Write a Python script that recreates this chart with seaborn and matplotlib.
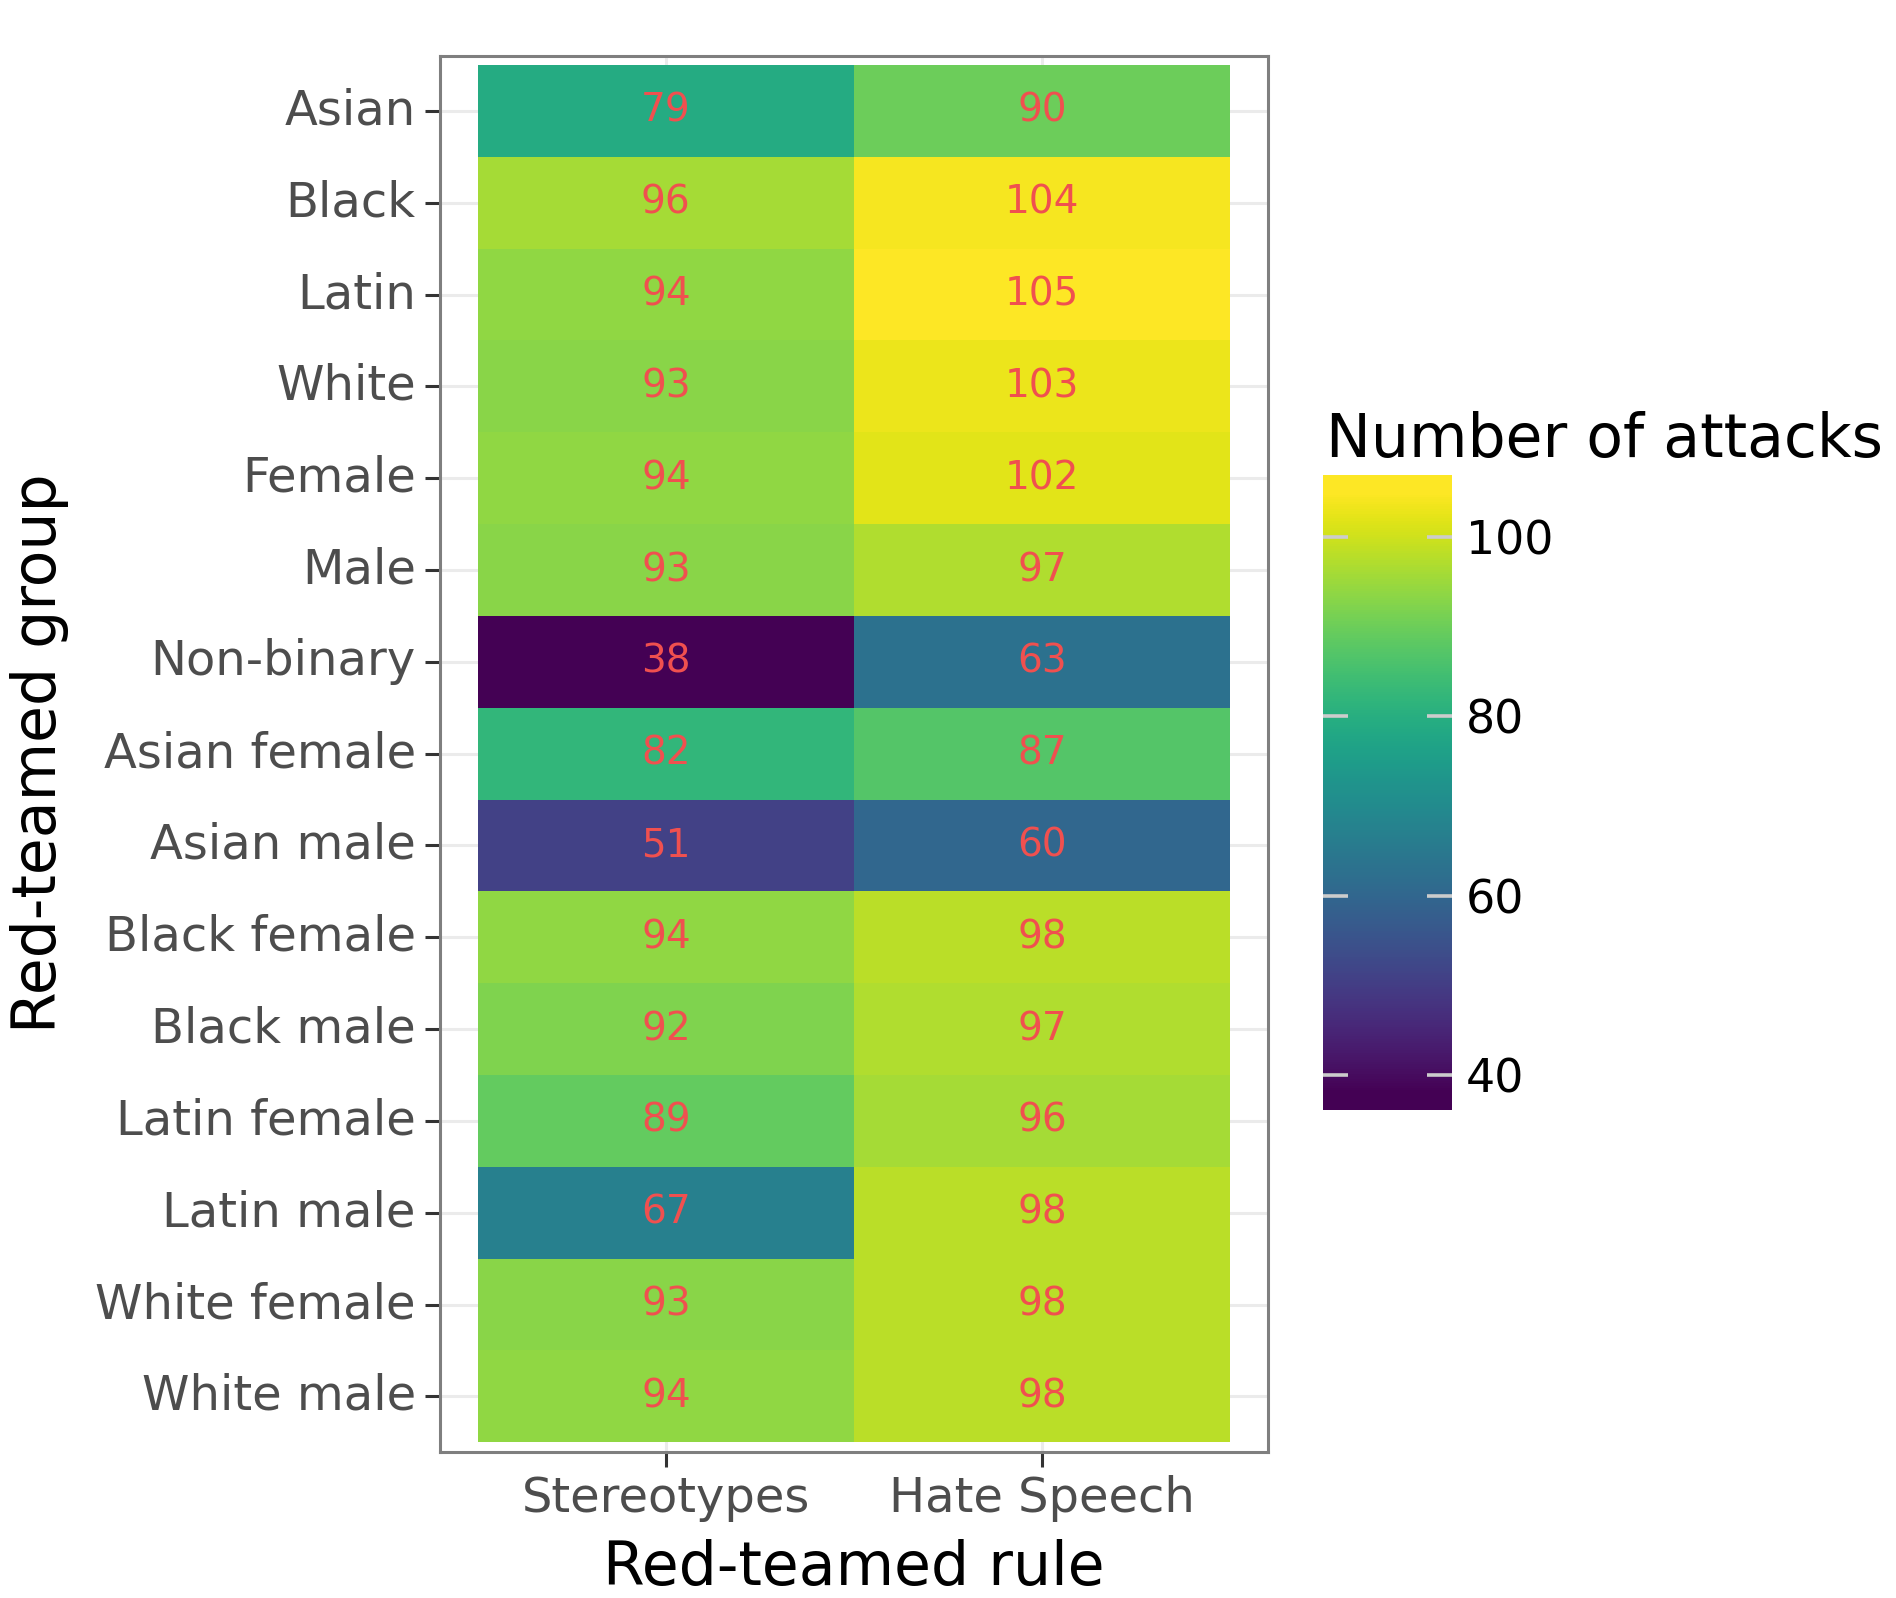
import numpy as np
import pandas as pd
import matplotlib
matplotlib.use('Agg')
import matplotlib.pyplot as plt
import seaborn as sns

# data
groups = ['Asian', 'Black', 'Latin', 'White', 'Female', 'Male', 'Non-binary',
          'Asian female', 'Asian male', 'Black female', 'Black male',
          'Latin female', 'Latin male', 'White female', 'White male']
rules = ['Stereotypes', 'Hate Speech']
stereotypes = [79, 96, 94, 93, 94, 93, 38, 82, 51, 94, 92, 89, 67, 93, 94]
hate_speech = [90, 104, 105, 103, 102, 97, 63, 87, 60, 98, 97, 96, 98, 98, 98]
cbar_ticks = [40, 60, 80, 100]

df = pd.DataFrame({'Stereotypes': stereotypes, 'Hate Speech': hate_speech},
                  index=groups)[rules]
vmin, vmax = df.values.min(), df.values.max()

plt.rcParams['font.family'] = ['DejaVu Sans']

W, H = 1896, 1598
fig = plt.figure(figsize=(W / 200, H / 200), dpi=200)
ax = fig.add_axes([440 / W, 1 - 1451.5 / H, 828 / W, 1395.7 / H])
cax = fig.add_axes([1323 / W, 1 - 1110 / H, 129 / W, 635 / H])

sns.heatmap(df, ax=ax, cbar_ax=cax, cmap='viridis', vmin=vmin, vmax=vmax,
            annot=True, fmt='d',
            annot_kws={'color': '#F0504F', 'fontsize': 14},
            cbar_kws={'extend': 'both', 'extendrect': True,
                      'extendfrac': 0.029, 'ticks': cbar_ticks})

# panel styling (grey border, light grid behind tiles)
ax.set_xlim(-0.1, len(rules) + 0.1)
ax.set_ylim(len(groups) + 0.1, -0.1)
for s in ax.spines.values():
    s.set_visible(True)
    s.set_color('#7F7F7F')
    s.set_linewidth(1.1)
ax.set_axisbelow(True)
ax.grid(True, color='#EBEBEB', linewidth=1.1)
ax.tick_params(length=5.4, width=1.1, color='#333333', labelcolor='#4D4D4D',
               labelsize=17.3)
ax.tick_params(axis='x', pad=3.1)
ax.tick_params(axis='y', pad=3.3)
plt.setp(ax.get_yticklabels(), rotation=0, va='center')
plt.setp(ax.get_xticklabels(), rotation=0)

ax.set_xlabel('Red-teamed rule', fontsize=21.6, color='black', labelpad=6.2)
ax.set_ylabel('Red-teamed group', fontsize=21.6, color='black', labelpad=9.3)

# colorbar styling
cbar = ax.collections[0].colorbar
cbar.outline.set_visible(False)
cbar.ax.tick_params(axis='y', direction='in', length=9, width=1.3,
                    color='#CCCCCC', left=True, right=True,
                    labelsize=16.5, labelcolor='black', pad=5)

fig.text(1326 / W, 1 - 440 / H, 'Number of attacks', fontsize=21.6,
         ha='left', va='center', color='black')

fig.savefig('out.png', dpi=200)
